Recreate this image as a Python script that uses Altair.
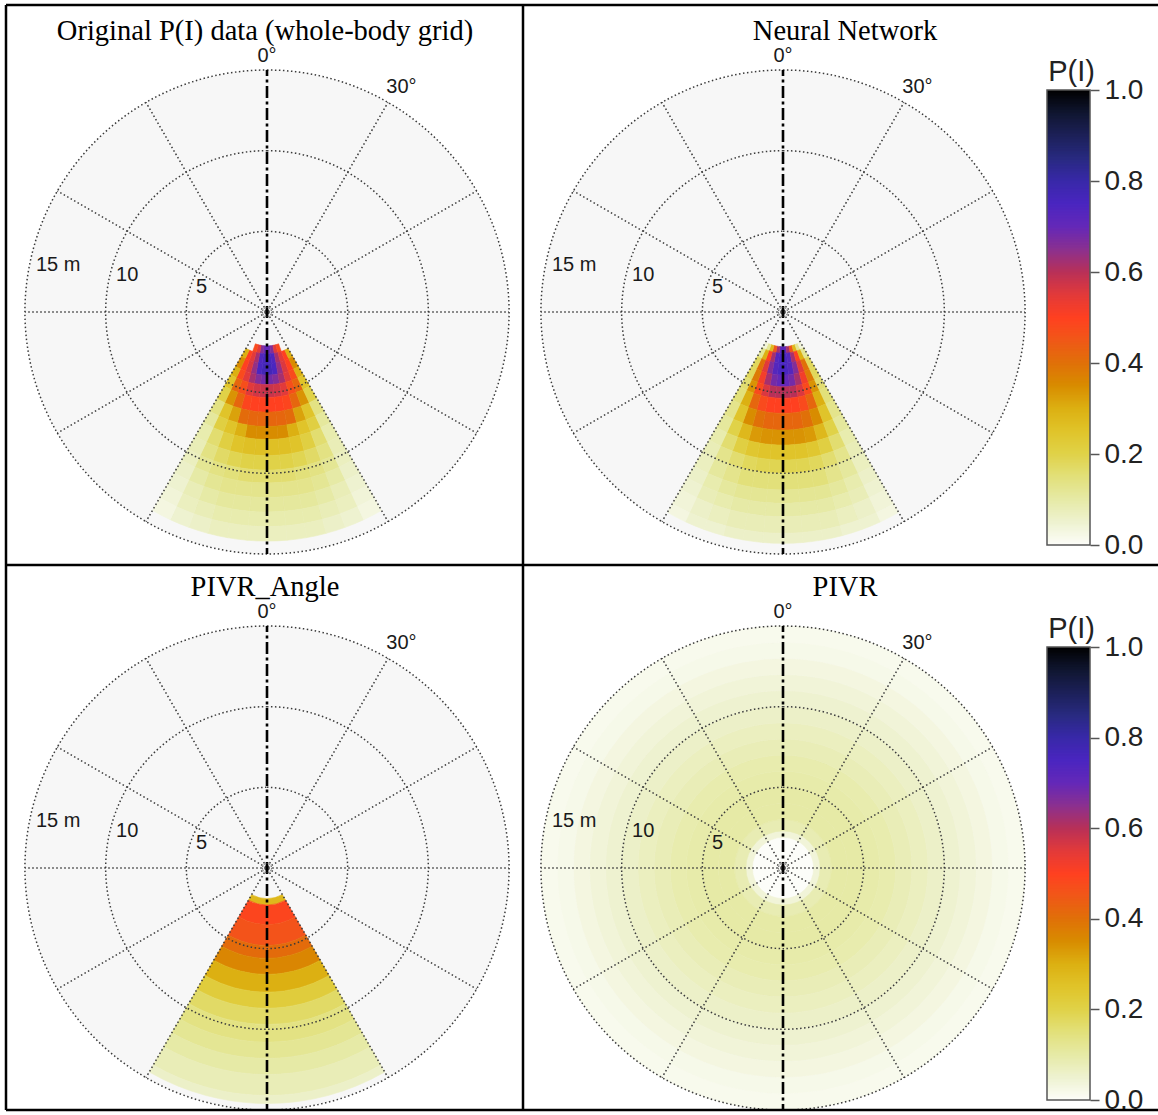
import altair as alt
import numpy as np
import pandas as pd

# ---------------- data ----------------
TITLES = ["Original P(I) data (whole-body grid)", "Neural Network", "PIVR_Angle", "PIVR"]
RING_RADII = [5, 10, 15]
RING_LABELS = ["5", "10", "15 m"]
RING_LABEL_R = [4.5, 9.5, 14.5]
RING_LABEL_T = [282, 280, 279]
SPOKE_ANGLES = [30, 60, 90, 120, 150, 210, 240, 270, 300, 330]
AXIS_ANGLES = [0, 180]
ANGLE_LABELS = ["0°", "30°"]
ANGLE_LABEL_T = [0, 29]
ANG_BINS = [0, 5, 10, 15, 20, 25, 30]   # offset from 180 deg, mirrored

ORIG_EDGES = [2.1, 2.6, 3.2, 3.9, 4.5, 5.3, 6.2, 7.1, 7.9, 8.9, 9.8, 10.6, 11.5, 12.4, 13.3, 14.2]
ORIG_VALUES = [
    [0.70, 0.66, 0.55, 0.48, 0.00, 0.00],
    [0.76, 0.74, 0.62, 0.55, 0.50, 0.30],
    [0.77, 0.75, 0.64, 0.56, 0.50, 0.35],
    [0.68, 0.66, 0.62, 0.55, 0.48, 0.30],
    [0.58, 0.57, 0.55, 0.47, 0.42, 0.25],
    [0.50, 0.50, 0.49, 0.42, 0.34, 0.20],
    [0.42, 0.42, 0.41, 0.32, 0.25, 0.14],
    [0.35, 0.35, 0.30, 0.25, 0.21, 0.11],
    [0.26, 0.26, 0.25, 0.21, 0.16, 0.09],
    [0.20, 0.20, 0.19, 0.17, 0.14, 0.08],
    [0.16, 0.16, 0.15, 0.14, 0.12, 0.07],
    [0.13, 0.13, 0.13, 0.12, 0.10, 0.06],
    [0.11, 0.11, 0.11, 0.10, 0.08, 0.05],
    [0.09, 0.09, 0.09, 0.08, 0.07, 0.04],
    [0.07, 0.07, 0.07, 0.06, 0.05, 0.03],
]

NN_EDGES = [2.15, 2.56, 3.18, 3.9, 4.63, 5.35, 6.28, 7.32, 8.25, 9.17, 10.0, 11.03, 11.86, 12.69, 13.72, 14.34]
NN_VALUES = [
    [0.72, 0.62, 0.45, 0.28, 0.12, 0.04],
    [0.75, 0.73, 0.62, 0.50, 0.30, 0.12],
    [0.75, 0.73, 0.66, 0.55, 0.40, 0.18],
    [0.70, 0.68, 0.62, 0.52, 0.38, 0.18],
    [0.60, 0.60, 0.56, 0.48, 0.34, 0.16],
    [0.50, 0.50, 0.48, 0.42, 0.30, 0.15],
    [0.42, 0.42, 0.40, 0.35, 0.25, 0.13],
    [0.34, 0.34, 0.33, 0.28, 0.20, 0.11],
    [0.25, 0.25, 0.24, 0.21, 0.16, 0.09],
    [0.19, 0.19, 0.18, 0.16, 0.13, 0.08],
    [0.15, 0.15, 0.15, 0.13, 0.11, 0.07],
    [0.12, 0.12, 0.12, 0.11, 0.09, 0.06],
    [0.10, 0.10, 0.10, 0.09, 0.08, 0.05],
    [0.08, 0.08, 0.08, 0.07, 0.06, 0.04],
    [0.06, 0.06, 0.06, 0.05, 0.05, 0.03],
]

ANG_HALF_WIDTH = 30
ANG_EDGES = [1.9, 2.3, 3.5, 4.8, 5.6, 6.6, 7.7, 8.7, 9.7, 10.8, 11.8, 12.8, 14.1, 14.6]
ANG_VALUES = [0.28, 0.49, 0.46, 0.41, 0.36, 0.30, 0.22, 0.17, 0.14, 0.12, 0.10, 0.08, 0.06]

PIVR_EDGES = [0, 1.9, 2.3, 3, 4, 5, 6, 7, 8, 9, 10, 11, 12, 13, 14, 15]
PIVR_VALUES = [0.0, 0.04, 0.085, 0.10, 0.10, 0.095, 0.09, 0.08, 0.07, 0.06, 0.05, 0.04, 0.03, 0.02, 0.015]

CB_STOPS = [0, 0.05, 0.1, 0.15, 0.2, 0.25, 0.3, 0.35, 0.4, 0.45, 0.5,
            0.55, 0.6, 0.65, 0.7, 0.75, 0.8, 0.85, 0.9, 0.95, 1.0]
CB_COLORS = ["#fcfdf9", "#eef2d0", "#e6eaa6", "#e2e07a", "#e0d248", "#e0c42a", "#dcb012",
             "#d88c00", "#e07008", "#f05818", "#ff4020", "#e23a3a", "#b83058", "#8a3090",
             "#6428b8", "#4a26c0", "#3828a8", "#282a80", "#1c2058", "#101630", "#000000"]
CB_TICKS = [0.0, 0.2, 0.4, 0.6, 0.8, 1.0]
CB_TITLE = "P(I)"

# ---------------- layout ----------------
W, H = 1158, 1115
R_PX = 242
CENTERS = [(267, 312), (783, 312), (267, 868), (783, 868)]
TITLE_POS = [(265, 40), (845, 40), (265, 596), (845, 596)]
CB_X0, CB_X1 = 1047, 1090
CB_ROWS = [(90, 545), (647, 1100)]

TH = alt.Scale(domain=[0, 360], range=[0, 2 * np.pi])
RS = alt.Scale(type="linear", domain=[0, 15], range=[0, R_PX], zero=True)
CS = alt.Scale(domain=CB_STOPS, range=CB_COLORS, interpolate="rgb", clamp=True)

SANS = "Liberation Sans"
SERIF = "Liberation Serif"
GRID = "#3a3a3a"


def wedge_cells(edges, values):
    rows = []
    for i in range(len(edges) - 1):
        for j in range(len(ANG_BINS) - 1):
            v = values[i][j]
            if v <= 0:
                continue
            a0, a1 = ANG_BINS[j], ANG_BINS[j + 1]
            rows.append(dict(t0=180 + a0, t1=180 + a1, r0=edges[i], r1=edges[i + 1], v=v))
            rows.append(dict(t0=180 - a1, t1=180 - a0, r0=edges[i], r1=edges[i + 1], v=v))
    return pd.DataFrame(rows)


def band_cells(edges, values, t0, t1):
    return pd.DataFrame([dict(t0=t0, t1=t1, r0=edges[i], r1=edges[i + 1], v=values[i])
                         for i in range(len(values))])


PANEL_DATA = [
    wedge_cells(ORIG_EDGES, ORIG_VALUES),
    wedge_cells(NN_EDGES, NN_VALUES),
    band_cells(ANG_EDGES, ANG_VALUES, 180 - ANG_HALF_WIDTH, 180 + ANG_HALF_WIDTH),
    band_cells(PIVR_EDGES, PIVR_VALUES, 0, 360),
]

disc_df = pd.DataFrame({"t0": [0], "t1": [360], "r": [15]})
rings_df = pd.DataFrame({"t0": 0, "t1": 360, "r": RING_RADII})
center_df = pd.DataFrame({"t0": [0], "t1": [360], "r": [0.28]})
spokes_df = pd.DataFrame({"t": SPOKE_ANGLES, "r": 15})
axis_df = pd.DataFrame({"t": AXIS_ANGLES, "r": 15})
rlab_df = pd.DataFrame({"lab": RING_LABELS, "t": RING_LABEL_T, "r": RING_LABEL_R})
alab0_df = pd.DataFrame({"lab": ANGLE_LABELS[:1], "t": ANGLE_LABEL_T[:1], "r": 15.25})
alab1_df = pd.DataFrame({"lab": ANGLE_LABELS[1:], "t": ANGLE_LABEL_T[1:], "r": 15.25})
one = pd.DataFrame({"k": [0]})


def panel(idx):
    cx, cy = CENTERS[idx]
    pos = dict(x=alt.value(cx), y=alt.value(cy))
    layers = []
    layers.append(alt.Chart(disc_df).mark_arc(color="#f7f7f7").encode(
        theta=alt.Theta("t0:Q", scale=TH, stack=False), theta2="t1:Q",
        radius=alt.Radius("r:Q", scale=RS), **pos))
    layers.append(alt.Chart(PANEL_DATA[idx]).mark_arc(strokeWidth=0.6).encode(
        theta=alt.Theta("t0:Q", scale=TH, stack=False), theta2="t1:Q",
        radius=alt.Radius("r1:Q", scale=RS), radius2="r0:Q",
        color=alt.Color("v:Q", scale=CS, legend=None),
        stroke=alt.Stroke("v:Q", scale=CS, legend=None), **pos))
    layers.append(alt.Chart(rings_df).mark_arc(
        filled=False, stroke=GRID, strokeWidth=1.5, strokeDash=[1.5, 2.5]).encode(
        theta=alt.Theta("t0:Q", scale=TH, stack=False), theta2="t1:Q",
        radius=alt.Radius("r:Q", scale=RS), **pos))
    layers.append(alt.Chart(spokes_df).mark_arc(
        filled=False, stroke=GRID, strokeWidth=1.5, strokeDash=[1.5, 2.5],
        strokeDashOffset=0.75).encode(
        theta=alt.Theta("t:Q", scale=TH, stack=False), theta2="t:Q",
        radius=alt.Radius("r:Q", scale=RS), **pos))
    layers.append(alt.Chart(axis_df).mark_arc(
        filled=False, stroke="#000000", strokeWidth=2.6, strokeDash=[12, 3.5, 3, 3.5],
        strokeDashOffset=6).encode(
        theta=alt.Theta("t:Q", scale=TH, stack=False), theta2="t:Q",
        radius=alt.Radius("r:Q", scale=RS), **pos))
    layers.append(alt.Chart(center_df).mark_arc(
        filled=False, stroke=GRID, strokeWidth=1.0, strokeDash=[1.2, 1.2]).encode(
        theta=alt.Theta("t0:Q", scale=TH, stack=False), theta2="t1:Q",
        radius=alt.Radius("r:Q", scale=RS), **pos))
    layers.append(alt.Chart(rlab_df).mark_text(
        align="left", baseline="bottom", font=SANS, fontSize=20, color="#1a1a1a").encode(
        theta=alt.Theta("t:Q", scale=TH, stack=False),
        radius=alt.Radius("r:Q", scale=RS), text="lab:N", **pos))
    layers.append(alt.Chart(alab0_df).mark_text(
        align="center", baseline="bottom", font=SANS, fontSize=20, color="#1a1a1a").encode(
        theta=alt.Theta("t:Q", scale=TH, stack=False),
        radius=alt.Radius("r:Q", scale=RS), text="lab:N", **pos))
    layers.append(alt.Chart(alab1_df).mark_text(
        align="left", baseline="bottom", font=SANS, fontSize=20, color="#1a1a1a").encode(
        theta=alt.Theta("t:Q", scale=TH, stack=False),
        radius=alt.Radius("r:Q", scale=RS), text="lab:N", **pos))
    tx, ty = TITLE_POS[idx]
    layers.append(alt.Chart(pd.DataFrame({"t": [TITLES[idx]]})).mark_text(
        align="center", baseline="alphabetic", font=SERIF, fontSize=28.5, color="#000000").encode(
        text="t:N", x=alt.value(tx), y=alt.value(ty)))
    return layers


def colorbar(row):
    y0, y1 = CB_ROWS[row]
    steps = np.linspace(0, 1, 301)
    cb = pd.DataFrame({"v0": steps[:-1]})
    cb["v1"] = np.minimum(steps[1:] + 0.004, 1.0)
    cb["vm"] = cb["v0"] + 0.5 / 300
    bar = alt.Chart(cb).mark_rect().encode(
        x=alt.value(CB_X0), x2=alt.value(CB_X1),
        y=alt.Y("v0:Q", scale=alt.Scale(domain=[0, 1], range=[y1, y0]),
                axis=alt.Axis(orient="right", offset=CB_X1 - W, values=CB_TICKS, format=".1f",
                              title=None, domain=False, grid=False, tickSize=9, tickWidth=1.5,
                              tickColor="#555555", labelFont=SANS, labelFontSize=28,
                              labelColor="#222222", labelPadding=5)),
        y2="v1:Q",
        color=alt.Color("vm:Q", scale=CS, legend=None))
    frame = alt.Chart(one).mark_rect(filled=False, stroke="#555555", strokeWidth=1.5).encode(
        x=alt.value(CB_X0), x2=alt.value(CB_X1), y=alt.value(y0), y2=alt.value(y1))
    title = alt.Chart(pd.DataFrame({"t": [CB_TITLE]})).mark_text(
        align="center", baseline="alphabetic", font=SANS, fontSize=29, color="#222222").encode(
        text="t:N", x=alt.value((CB_X0 + CB_X1) / 2 + 3), y=alt.value(y0 - 9))
    return [bar, frame, title]


def border(x, x2, y, y2):
    return alt.Chart(one).mark_rule(color="#000000", strokeWidth=2.5).encode(
        x=alt.value(x), x2=alt.value(x2), y=alt.value(y), y2=alt.value(y2))


layers = []
for i in range(4):
    layers += panel(i)
layers += colorbar(0)
layers += colorbar(1)
layers += [
    border(6, 6, 5, 1110), border(523, 523, 5, 1110),
    border(6, W, 5, 5), border(6, W, 565, 565), border(6, W, 1110, 1110),
]

chart = alt.layer(*layers).resolve_scale(y="independent").properties(
    width=W, height=H, autosize=alt.AutoSizeParams(type="none"), padding=0,
    background="#ffffff").configure_view(stroke=None)

chart.save("out.html", embed_options={"renderer": "svg", "actions": False})
